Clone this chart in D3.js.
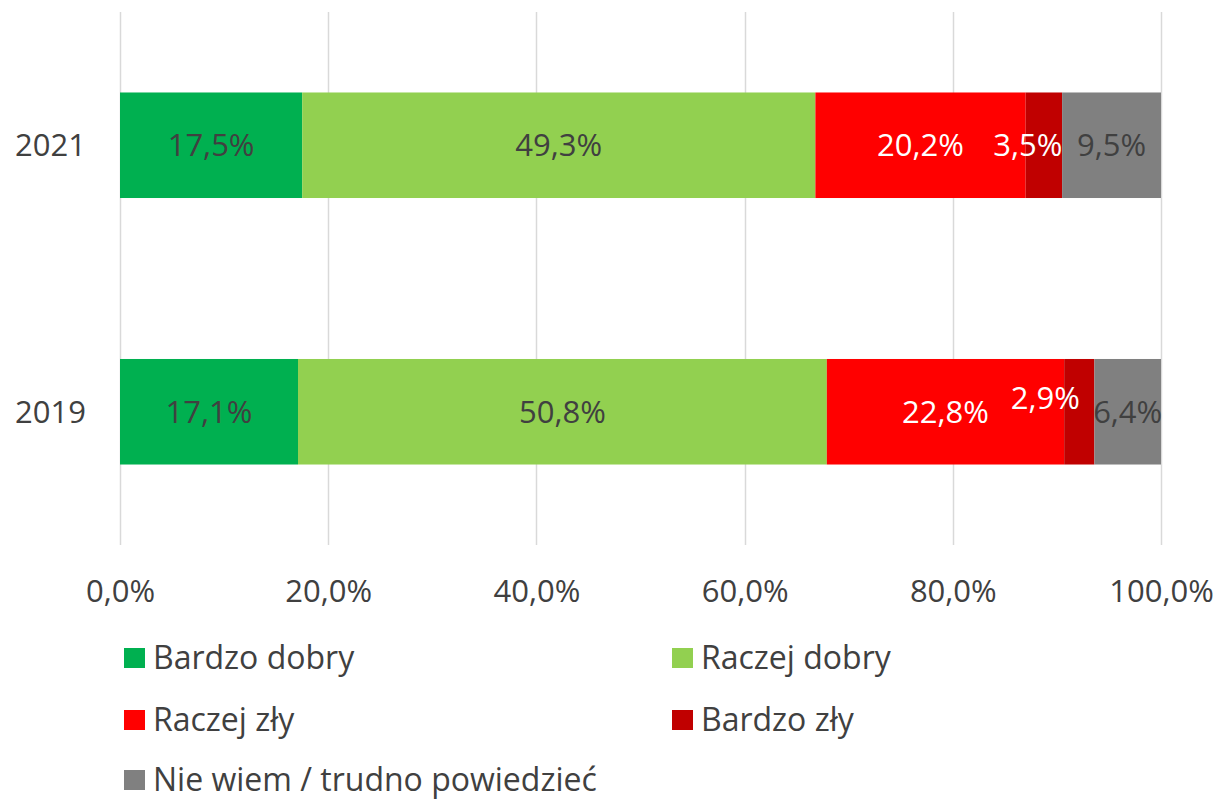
<!DOCTYPE html>
<html><head><meta charset="utf-8">
<script src="https://cdn.jsdelivr.net/npm/d3@7"></script>
<style>
body{margin:0;background:#fff;}
text{font-family:"Open Sans",sans-serif;}
</style></head>
<body><svg id="c" width="1221" height="799"></svg>
<script>
const categories = ["2021", "2019"];
const seriesNames = ["Bardzo dobry", "Raczej dobry", "Raczej zły", "Bardzo zły", "Nie wiem / trudno powiedzieć"];
const bardzoDobry = [17.5, 17.1];
const raczejDobry = [49.3, 50.8];
const raczejZly = [20.2, 22.8];
const bardzoZly = [3.5, 2.9];
const nieWiem = [9.5, 6.4];
const tickValues = [0, 20, 40, 60, 80, 100];

const colors = ["#00B050", "#92D050", "#FF0000", "#C00000", "#808080"];
const labelColors = ["#404040", "#404040", "#ffffff", "#ffffff", "#404040"];
const series = [bardzoDobry, raczejDobry, raczejZly, bardzoZly, nieWiem];

const svg = d3.select("#c");
const x = d3.scaleLinear().domain([0, 100]).range([120, 1161]);
const y = d3.scaleBand().domain(categories).range([12, 545]).paddingInner(0.604).paddingOuter(0.302);
const fs = 31;
const fmt = v => d3.format(".1f")(v).replace(".", ",") + "%";

// gridlines
svg.append("g").selectAll("line").data(tickValues).join("line")
  .attr("x1", d => Math.round(x(d)) + 0.5).attr("x2", d => Math.round(x(d)) + 0.5)
  .attr("y1", 12).attr("y2", 545).attr("stroke", "#D9D9D9").attr("stroke-width", 1.5);

// x axis labels
const xAxis = d3.axisBottom(x).tickValues(tickValues).tickSize(0).tickPadding(0).tickFormat(fmt);
const gx = svg.append("g").attr("transform", "translate(0,602)").call(xAxis);
gx.select(".domain").remove();
gx.selectAll("text").attr("font-size", fs).attr("fill", "#404040").attr("dy", 0)
  .attr("font-family", "Open Sans");

// y axis labels
const yAxis = d3.axisLeft(y).tickSize(0).tickPadding(0);
const gy = svg.append("g").attr("transform", "translate(86,0)").call(yAxis);
gy.select(".domain").remove();
gy.selectAll("text").attr("font-size", fs).attr("fill", "#404040").attr("dy", "0.35em")
  .attr("font-family", "Open Sans");

// stacked data
const rows = categories.map((c, i) => {
  let acc = 0;
  return series.map((s, k) => { const r = {cat: c, k, v: s[i], x0: acc, x1: acc + s[i]}; acc += s[i]; return r; });
});
const segs = rows.flat();

svg.append("g").selectAll("rect").data(segs).join("rect")
  .attr("x", d => x(d.x0)).attr("width", d => x(d.x1) - x(d.x0))
  .attr("y", d => y(d.cat)).attr("height", y.bandwidth())
  .attr("fill", d => colors[d.k]);

// label adjustments (Excel overlap avoidance)
const adj = {"2021-3": [-16, 0], "2019-3": [-34, -14]};
svg.append("g").selectAll("text").data(segs).join("text")
  .attr("x", d => (x(d.x0) + x(d.x1)) / 2 + (adj[d.cat + "-" + d.k] || [0, 0])[0])
  .attr("y", d => y(d.cat) + y.bandwidth() / 2 + (adj[d.cat + "-" + d.k] || [0, 0])[1])
  .attr("dy", "0.35em").attr("text-anchor", "middle")
  .attr("font-size", fs).attr("fill", d => labelColors[d.k])
  .text(d => fmt(d.v));

// legend
const legPos = [[124, 658], [672, 658], [124, 720], [672, 720], [124, 780]];
const lg = svg.append("g").selectAll("g").data(seriesNames).join("g")
  .attr("transform", (d, i) => `translate(${legPos[i][0]},${legPos[i][1]})`);
lg.append("rect").attr("x", 0).attr("y", -10).attr("width", 21).attr("height", 20)
  .attr("fill", (d, i) => colors[i]);
lg.append("text").attr("x", 29).attr("dy", "0.35em").attr("font-size", 32)
  .attr("fill", "#404040").text(d => d);
</script></body></html>
